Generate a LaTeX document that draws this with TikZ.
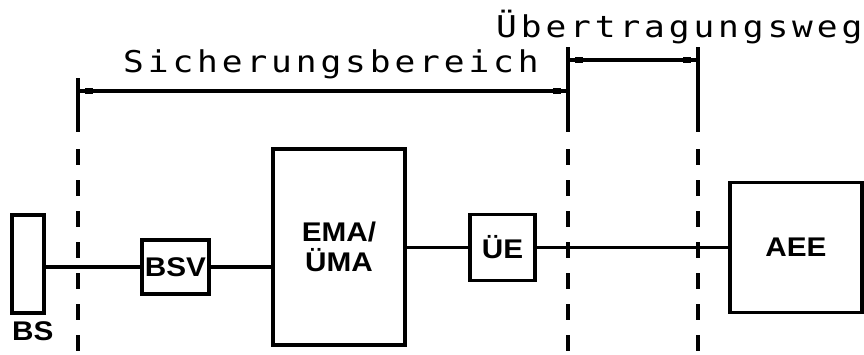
\documentclass[tikz,border=0pt]{standalone}
\usepackage{fontspec}
\setmainfont{Liberation Sans}
\newfontfamily\plotfont[LetterSpace=13,FakeStretch=1.15]{DejaVu Sans Mono}
\newfontfamily\blockfamily[FakeStretch=1.1]{Liberation Sans}
\usetikzlibrary{positioning,arrows.meta}

\newcommand\boxfont{\fontsize{27}{30}\selectfont\blockfamily\bfseries}
\newcommand\spanfont{\fontsize{30}{32}\selectfont\plotfont}

\begin{document}
\begin{tikzpicture}[x=1pt, y=-1pt,
  box/.style={draw, line width=3.4pt, inner sep=0pt, align=center, font=\boxfont},
  wire/.style={line width=3.2pt},
  bound/.style={line width=3.2pt},
  dim/.style={line width=3.2pt, postaction={draw, {Square[length=8pt,width=6.5pt,sep=7pt]}-{Square[length=8pt,width=6.5pt,sep=7pt]}}},
  spantext/.style={font=\spanfont, inner sep=0pt, anchor=base west}]
  \useasboundingbox (0,0) rectangle (864,354);

  % section boundaries
  \coordinate (bl) at (78,78);
  \coordinate (bm) at (568,47);
  \coordinate (br) at (698,47);
  \coordinate (cut) at (0,132);
  \coordinate (resume) at (0,149);
  \coordinate (bot) at (0,354);
  \foreach \bd in {bl,bm,br} {
    \draw[bound] (\bd) -- (\bd |- cut);
    \draw[bound, dash pattern=on 16pt off 15pt] (\bd |- resume) -- (\bd |- bot);
  }

  % ranges
  \coordinate (sy) at (0,91);
  \coordinate (uy) at (0,60);
  \draw[dim] (bl |- sy) -- (bm |- sy);
  \draw[dim] (bm |- uy) -- (br |- uy);
  \node[spantext] (sich) at (123,72) {Sicherungsbereich};
  \node[spantext] (uebw) at (496,37) {Übertragungsweg};

  % blocks
  \node[box, minimum width=32pt, minimum height=98pt] (bs) at (28,264) {};
  \node[font=\boxfont, inner sep=0pt, anchor=base west] (bslabel) at (12,340) {BS};
  \node[box, minimum width=67pt, minimum height=54pt] (bsv) at (175.5,267) {BSV};
  \node[box, minimum width=132pt, minimum height=196pt] (ema) at (339,247) {EMA/\\ÜMA};
  \node[box, minimum width=65pt, minimum height=66pt] (ue) at (502.5,247.5) {ÜE};
  \node[box, minimum width=132pt, minimum height=130pt] (aee) at (796,247.5) {AEE};

  \draw[wire] (bs.east |- bsv.west) -- (bsv.west);
  \draw[wire] (bsv.east) -- (bsv.east -| ema.west);
  \draw[wire] (ue.west -| ema.east) -- (ue.west);
  \draw[wire] (ue.east) -- (aee.west);
\end{tikzpicture}
\end{document}
